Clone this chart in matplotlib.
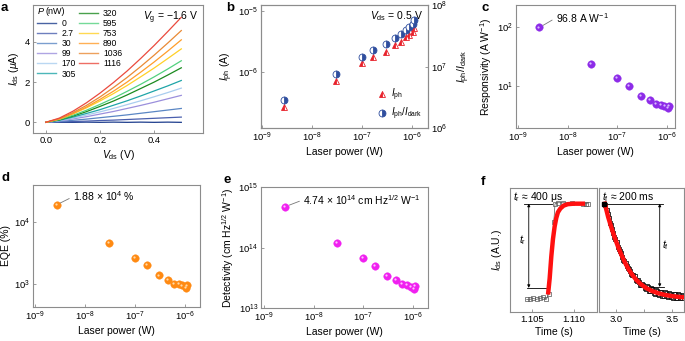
import matplotlib
matplotlib.use('Agg')
import matplotlib.pyplot as plt
from matplotlib.lines import Line2D
from matplotlib.transforms import offset_copy

plt.rcParams['font.family'] = ['Liberation Sans', 'DejaVu Sans']
plt.rcParams['mathtext.fontset'] = 'custom'
plt.rcParams['mathtext.rm'] = 'Liberation Sans'
plt.rcParams['mathtext.it'] = 'Liberation Sans:italic'
plt.rcParams['mathtext.bf'] = 'Liberation Sans:bold'
plt.rcParams['axes.unicode_minus'] = True

# ---- panel a: I-V curves under illumination ----
vds = [0.0, 0.05, 0.10, 0.15, 0.20, 0.25, 0.30, 0.35, 0.40, 0.45, 0.50]
powers_nw = ['0', '2.7', '30', '99', '170', '305', '320', '595', '753', '890', '1036', '1116']
ids_curves = [
    [0.00, 0.00, 0.00, 0.01, 0.00, 0.01, 0.00, 0.01, 0.00, 0.01, 0.00],
    [0.00, 0.02, 0.04, 0.06, 0.09, 0.11, 0.14, 0.17, 0.20, 0.23, 0.26],
    [0.00, 0.04, 0.10, 0.16, 0.23, 0.30, 0.37, 0.45, 0.53, 0.61, 0.69],
    [0.00, 0.07, 0.17, 0.28, 0.41, 0.54, 0.69, 0.84, 1.00, 1.17, 1.34],
    [0.00, 0.09, 0.21, 0.36, 0.52, 0.69, 0.88, 1.07, 1.27, 1.48, 1.70],
    [0.00, 0.10, 0.26, 0.44, 0.63, 0.85, 1.07, 1.31, 1.56, 1.81, 2.08],
    [0.00, 0.12, 0.31, 0.53, 0.79, 1.06, 1.36, 1.68, 2.00, 2.35, 2.71],
    [0.00, 0.14, 0.35, 0.60, 0.89, 1.20, 1.54, 1.89, 2.26, 2.65, 3.06],
    [0.00, 0.16, 0.42, 0.72, 1.06, 1.43, 1.83, 2.26, 2.70, 3.17, 3.65],
    [0.00, 0.16, 0.43, 0.76, 1.14, 1.55, 2.00, 2.49, 3.00, 3.54, 4.10],
    [0.00, 0.18, 0.48, 0.84, 1.26, 1.73, 2.23, 2.77, 3.34, 3.94, 4.56],
    [0.00, 0.21, 0.55, 0.97, 1.45, 1.98, 2.55, 3.17, 3.82, 4.51, 5.22],
]
curve_colors = ['#1c3c8c', '#4a5fae', '#5a86c4', '#9b8fdc', '#a9cdef', '#1fa5a8',
                '#1b8a1f', '#52d17f', '#ffd027', '#ff9d2a', '#e98a35', '#ea4a3d']

# ---- panels b-e: power dependence ----
laser_power = [2.7e-9, 3.0e-8, 9.9e-8, 1.7e-7, 3.05e-7, 4.6e-7, 5.95e-7, 7.53e-7, 8.9e-7, 1.036e-6, 1.116e-6]
iph = [2.77e-7, 7.2e-7, 1.4e-6, 1.75e-6, 2.1e-6, 2.77e-6, 3.14e-6, 3.7e-6, 4.0e-6, 4.5e-6, 5.2e-6]
ratio = [2.88e6, 7.6e6, 1.45e7, 1.86e7, 2.3e7, 2.95e7, 3.34e7, 3.93e7, 4.46e7, 4.9e7, 5.7e7]
responsivity = [96.8, 23.5, 13.5, 10.0, 6.7, 5.66, 4.98, 4.72, 4.49, 4.2, 4.49]
eqe = [1.88e4, 4.57e3, 2.63e3, 2.0e3, 1.35e3, 1.15e3, 1.0e3, 0.98e3, 0.93e3, 0.85e3, 0.93e3]
detectivity = [4.74e14, 1.17e14, 6.7e13, 5.0e13, 3.4e13, 2.9e13, 2.5e13, 2.4e13, 2.2e13, 2.1e13, 2.28e13]

# ---- panel f: rise and decay ----
rise_t = [1.1043, 1.1047, 1.1051, 1.1055, 1.1059, 1.1063, 1.1067, 1.1070,
          1.1076, 1.10775, 1.1081, 1.1087, 1.1098, 1.1111, 1.1115, 1.1117]
rise_y = [0.00, 0.00, 0.01, 0.00, 0.01, 0.02, 0.00, 0.06,
          0.81, 1.00, 1.01, 1.01, 1.01, 1.00, 1.00, 1.00]
rise_fit_t = [1.1069, 1.1071, 1.1073, 1.1075, 1.1077, 1.1079, 1.1081, 1.1084,
              1.1088, 1.1093, 1.1100, 1.1108, 1.1114]
rise_fit_y = [0.05, 0.22, 0.45, 0.63, 0.76, 0.85, 0.91, 0.95, 0.98, 0.995, 1.0, 1.0, 1.0]

decay_t = [2.895, 2.905, 2.915, 2.925, 2.935, 2.945, 2.955, 2.965, 2.975, 2.985, 2.995,
           3.005, 3.015, 3.025, 3.035, 3.045, 3.055, 3.065, 3.075, 3.085, 3.095,
           3.105, 3.115, 3.125, 3.135, 3.145, 3.155, 3.165, 3.175, 3.185, 3.195,
           3.205, 3.215, 3.225, 3.235, 3.245, 3.255, 3.265, 3.275, 3.285, 3.295,
           3.305, 3.315, 3.325, 3.335, 3.345, 3.355, 3.365, 3.375, 3.385, 3.395,
           3.405, 3.415, 3.425, 3.435, 3.445, 3.455, 3.465, 3.475, 3.485, 3.495,
           3.505, 3.515, 3.525, 3.535, 3.545, 3.555, 3.565, 3.575, 3.585, 3.595, 3.605]
decay_y = [1.000, 0.985, 0.930, 0.895, 0.850, 0.800, 0.775, 0.735, 0.690, 0.650, 0.630,
           0.600, 0.550, 0.525, 0.505, 0.480, 0.440, 0.415, 0.400, 0.380, 0.345,
           0.325, 0.315, 0.300, 0.265, 0.255, 0.250, 0.240, 0.200, 0.190, 0.200,
           0.185, 0.150, 0.145, 0.165, 0.150, 0.115, 0.105, 0.135, 0.125, 0.090,
           0.085, 0.115, 0.110, 0.070, 0.060, 0.095, 0.090, 0.055, 0.050, 0.080,
           0.075, 0.035, 0.030, 0.075, 0.070, 0.030, 0.025, 0.065, 0.060, 0.020,
           0.015, 0.060, 0.055, 0.015, 0.010, 0.055, 0.050, 0.010, 0.015, 0.045, 0.040]
decay_fit_t = [2.900, 2.930, 2.960, 2.990, 3.020, 3.050, 3.080, 3.110, 3.140, 3.180, 3.220,
               3.270, 3.320, 3.380, 3.440, 3.500, 3.560, 3.600]
decay_fit_y = [1.000, 0.860, 0.745, 0.640, 0.545, 0.460, 0.385, 0.320, 0.265, 0.205, 0.160,
               0.118, 0.088, 0.063, 0.046, 0.034, 0.026, 0.022]

W, H = 685, 341
GRAY = '#8c8c8c'


def box(l, r, t, b):
    return [l / W, 1 - b / H, (r - l) / W, (b - t) / H]


def style(ax):
    for s in ax.spines.values():
        s.set_color(GRAY)
        s.set_linewidth(0.8)
    ax.tick_params(which='both', direction='in', length=2.2, width=0.6, color=GRAY,
                   labelsize=6.8, pad=2)
    ax.tick_params(which='minor', length=0)


def sphere(ax, x, y, color, hi):
    ax.plot(x, y, 'o', ms=5.4, color=color, mec=color, mew=0.3, zorder=3)
    tr = offset_copy(ax.transData, fig=ax.figure, x=-0.7, y=0.7, units='points')
    ax.plot(x, y, 'o', ms=1.6, color=hi, mew=0, transform=tr, zorder=4)


def letter(x, y, s):
    fig.text(x / W, 1 - y / H, s, fontsize=9.5, fontweight='bold', va='top', ha='left')


fig = plt.figure(figsize=(6.85, 3.41), dpi=100)

# ---------- a ----------
ax = fig.add_axes(box(33, 203, 5, 133))
style(ax)
handles = [Line2D([], [], color='none')]
labels = [' ']
for c, p, col in zip(ids_curves, powers_nw, curve_colors):
    ax.plot(vds, c, color=col, lw=0.9)
    handles.append(Line2D([], [], color=col, lw=1.0, alpha=0.8))
    labels.append(p)
ax.set_xlim(-0.047, 0.58)
ax.set_ylim(-0.53, 5.83)
ax.set_xticks([0.0, 0.2, 0.4])
ax.set_xticklabels(['0.0', '0.2', '0.4'])
ax.set_yticks([0, 2, 4])
ax.set_xlabel(r'$V_{\rm ds}$ (V)', fontsize=7.5, labelpad=2)
ax.set_ylabel(r'$I_{\rm ds}$ ($\mu$A)', fontsize=7.5, labelpad=3)
ax.legend(handles, labels, ncol=2, loc='upper left', frameon=False, fontsize=6.2,
          handlelength=2.2, labelspacing=0.12, columnspacing=0.35, handletextpad=0.6,
          borderaxespad=0.1, bbox_to_anchor=(0.0, 1.0))
ax.text(0.03, 0.948, 'P', transform=ax.transAxes, fontsize=6.5, va='center',
        style='italic')
ax.text(0.075, 0.948, '(nW)', transform=ax.transAxes, fontsize=6.5, va='center')
ax.text(0.97, 0.965, r'$V_{\rm g}$ = −1.6 V', transform=ax.transAxes, fontsize=7.5,
        va='top', ha='right')
letter(1, 2, 'a')

# ---------- b ----------
ax = fig.add_axes(box(261, 428, 5, 128))
style(ax)
ax2 = ax.twinx()
style(ax2)
ax.set_xscale('log')
ax.set_yscale('log')
ax2.set_yscale('log')
tri, = ax.plot(laser_power, iph, '^', ms=5, color='#e8202a', mec='#e8202a', mew=0.6,
               fillstyle='left', markerfacecoloralt='white', zorder=3)
cir, = ax2.plot(laser_power, ratio, 'o', ms=5, color='#2f4e9e', mec='#2f4e9e', mew=0.6,
                fillstyle='right', markerfacecoloralt='white', zorder=3)
ax.set_xlim(0.95e-9, 2.1e-6)
ax.set_ylim(1.24e-7, 1.24e-5)
ax2.set_ylim(1e6, 1e8)
ax.set_xticks([1e-9, 1e-8, 1e-7, 1e-6])
ax.set_yticks([1e-6, 1e-5])
ax2.set_yticks([1e6, 1e7, 1e8])
ax.set_xlabel('Laser power (W)', fontsize=7.5, labelpad=2)
ax.set_ylabel(r'$I_{\rm ph}$ (A)', fontsize=7.5, labelpad=2)
ax2.set_ylabel(r'$I_{\rm ph}$/$I_{\rm dark}$', fontsize=7.5, labelpad=6)
ax.legend([tri, cir], [r'$I_{\rm ph}$', r'$I_{\rm ph}$/$I_{\rm dark}$'], loc='lower right',
          frameon=False, fontsize=7, handlelength=1.0, handletextpad=0.4, labelspacing=0.3,
          borderaxespad=0.2)
ax.text(0.97, 0.965, r'$V_{\rm ds}$ = 0.5 V', transform=ax.transAxes, fontsize=7.5,
        va='top', ha='right')
letter(226, 2, 'b')

ann = dict(arrowstyle='-', color='#777777', lw=0.6, shrinkA=1, shrinkB=3, relpos=(0, 0.5))

# ---------- c ----------
ax = fig.add_axes(box(516, 675, 5, 128))
style(ax)
ax.set_xscale('log')
ax.set_yscale('log')
sphere(ax, laser_power, responsivity, '#8d2be8', '#d8b8ff')
ax.set_xlim(0.91e-9, 1.45e-6)
ax.set_ylim(1.94, 232)
ax.set_xticks([1e-9, 1e-8, 1e-7, 1e-6])
ax.set_yticks([10, 100])
ax.set_xlabel('Laser power (W)', fontsize=7.5, labelpad=2)
ax.set_ylabel(r'Responsivity (A W$^{-1}$)', fontsize=7.5, labelpad=2)
ax.annotate(r'96.8 A W$^{-1}$', xy=(laser_power[0], responsivity[0]), xytext=(12, 7),
            textcoords='offset points', fontsize=7.5, va='center', arrowprops=ann)
letter(481, 2, 'c')

# ---------- d ----------
ax = fig.add_axes(box(33, 200, 185, 307))
style(ax)
ax.set_xscale('log')
ax.set_yscale('log')
sphere(ax, laser_power, eqe, '#ff8a12', '#ffd9a8')
ax.set_xlim(0.91e-9, 2.0e-6)
ax.set_ylim(417, 3.94e4)
ax.set_xticks([1e-9, 1e-8, 1e-7, 1e-6])
ax.set_yticks([1e3, 1e4])
ax.set_xlabel('Laser power (W)', fontsize=7.5, labelpad=2)
ax.set_ylabel('EQE (%)', fontsize=7.5, labelpad=2)
ax.annotate(r'1.88 $\times$ 10$^{4}$ %', xy=(laser_power[0], eqe[0]), xytext=(12, 6),
            textcoords='offset points', fontsize=7.5, va='center', arrowprops=ann)
letter(1, 172, 'd')

# ---------- e ----------
ax = fig.add_axes(box(261, 428, 187, 308))
style(ax)
ax.set_xscale('log')
ax.set_yscale('log')
sphere(ax, laser_power, detectivity, '#f020f0', '#ffc0ff')
ax.set_xlim(0.87e-9, 2.0e-6)
ax.set_ylim(1e13, 1e15)
ax.set_xticks([1e-9, 1e-8, 1e-7, 1e-6])
ax.set_yticks([1e13, 1e14, 1e15])
ax.set_xlabel('Laser power (W)', fontsize=7.5, labelpad=2)
ax.set_ylabel(r'Detectivity (cm Hz$^{1/2}$ W$^{-1}$)', fontsize=7.5, labelpad=2)
ax.annotate(r'4.74 $\times$ 10$^{14}$ cm Hz$^{1/2}$ W$^{-1}$', xy=(laser_power[0], detectivity[0]),
            xytext=(13, 5), textcoords='offset points', fontsize=7.5, va='center', arrowprops=ann)
letter(224, 174, 'e')

# ---------- f ----------
axr = fig.add_axes(box(510, 597, 188, 312))
axd = fig.add_axes(box(599, 684, 188, 312))
for a in (axr, axd):
    style(a)
    a.set_yticks([])
    a.set_ylim(-0.132, 1.164)
    a.set_xlabel('Time (s)', fontsize=7.5, labelpad=2)

axr.plot(rise_t, rise_y, 's', color='#555555', ms=2.4, mfc='none', mew=0.5, ls='-', lw=0.5, zorder=2)
axr.plot(rise_fit_t, rise_fit_y, color='#ff1010', lw=3.2, solid_capstyle='butt', zorder=3)
axr.set_xlim(1.10228, 1.11285)
axr.set_xticks([1.105, 1.110])
axr.set_xticklabels(['1.105', '1.110'])
axr.set_ylabel(r'$I_{\rm ds}$ (A.U.)', fontsize=7.5, labelpad=4)
axr.plot([1.1040, 1.1074], [1.0, 1.0], color='k', lw=0.6)
axr.plot([1.1043, 1.1069], [0.12, 0.12], color='k', lw=0.6)
axr.annotate('', xy=(1.10456, 1.0), xytext=(1.10456, 0.12),
             arrowprops=dict(arrowstyle='<|-|>', color='k', lw=0.6, mutation_scale=4,
                             shrinkA=0, shrinkB=0))
axr.text(1.1038, 0.62, r'$t_{\rm r}$', fontsize=7.5, va='center', ha='center')
axr.text(0.04, 0.985, r'$t_{\rm r}$ ≈ 400 μs', transform=axr.transAxes, fontsize=7.5,
         va='top', ha='left')

axd.plot(decay_t, decay_y, 's', color='#111111', ms=2.6, mfc='none', mew=0.6, ls='-', lw=0.5, zorder=2)
axd.plot(decay_t[0], decay_y[0], 's', color='k', ms=3, zorder=4)
axd.plot(decay_fit_t, decay_fit_y, color='#ff1010', lw=3.2, zorder=3)
axd.set_xlim(2.848, 3.607)
axd.set_xticks([3.0, 3.5])
axd.set_xticks([3.25], minor=True)
axd.tick_params(which='minor', length=2.2, width=0.6, direction='in', color=GRAY)
axd.set_xticklabels(['3.0', '3.5'])
axd.plot([2.90, 3.42], [1.0, 1.0], color='k', lw=0.6)
axd.plot([3.31, 3.43], [0.13, 0.13], color='k', lw=0.6)
axd.annotate('', xy=(3.39, 1.0), xytext=(3.39, 0.13),
             arrowprops=dict(arrowstyle='<|-|>', color='k', lw=0.6, mutation_scale=4,
                             shrinkA=0, shrinkB=0))
axd.text(3.44, 0.57, r'$t_{\rm f}$', fontsize=7.5, va='center', ha='center')
axd.text(0.04, 0.985, r'$t_{\rm f}$ ≈ 200 ms', transform=axd.transAxes, fontsize=7.5,
         va='top', ha='left')
letter(481, 176, 'f')

fig.savefig('out.png', dpi=100)
